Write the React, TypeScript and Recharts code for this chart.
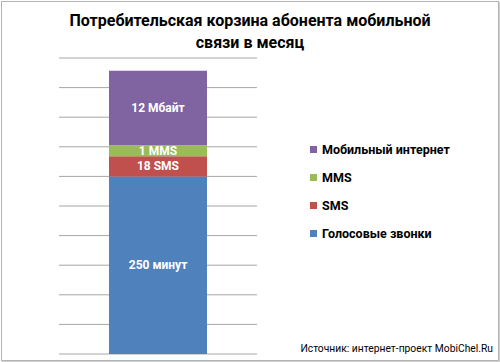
import React from "react";
import { BarChart, Bar, XAxis, YAxis, CartesianGrid, LabelList } from "recharts";

const categories = ["Месяц"];
const seriesNames = ["Голосовые звонки", "SMS", "MMS", "Мобильный интернет"];
const seriesKeys = ["voice", "sms", "mms", "internet"];
const seriesValues = [60, 6.8, 3.7, 25.2];
const seriesLabels = ["250 минут", "18 SMS", "1 MMS", "12 Мбайт"];
const seriesColors = ["#4F81BD", "#C0504D", "#9BBB59", "#8064A2"];
const yTicks = [0, 10, 20, 30, 40, 50, 60, 70, 80, 90, 100];

const data = categories.map((c) => {
  const row: Record<string, string | number> = { name: c };
  seriesKeys.forEach((k, i) => {
    row[k] = seriesValues[i];
  });
  return row;
});

const FONT = "Roboto, 'Noto Sans', sans-serif";

const makeLabel = (text: string) => (props: any) => {
  const { x, y, width, height } = props;
  return (
    <text
      x={x + width / 2}
      y={y + height / 2}
      textAnchor="middle"
      dominantBaseline="central"
      fill="#ffffff"
      fontFamily={FONT}
      fontWeight={700}
      fontSize={12}
    >
      {text}
    </text>
  );
};

const LegendBlock = () => {
  const order = [3, 2, 1, 0];
  return (
    <div style={{ position: "absolute", left: 310, top: 135, fontFamily: FONT }}>
      {order.map((i) => (
        <div key={i} style={{ display: "flex", alignItems: "center", height: 28 }}>
          <div style={{ width: 7, height: 7, background: seriesColors[i], marginRight: 5 }} />
          <span style={{ fontSize: 12.5, fontWeight: 700, color: "#000" }}>{seriesNames[i]}</span>
        </div>
      ))}
    </div>
  );
};

export default function App() {
  return (
    <div style={{ position: "absolute", left: 0, top: 0, width: 500, height: 362, background: "#fff" }}>
      <div
        style={{
          position: "absolute",
          left: 1,
          top: 1,
          width: 496,
          height: 358,
          border: "1px solid #b4b4b4",
          boxShadow: "1px 1px 1px #d0d0d0",
        }}
      />
      <div
        style={{
          position: "absolute",
          left: 0,
          top: 10,
          width: 500,
          textAlign: "center",
          fontFamily: FONT,
          fontWeight: 700,
          fontSize: 16,
          lineHeight: "22px",
          color: "#000",
        }}
      >
        Потребительская корзина абонента мобильной
        <br />
        связи в месяц
      </div>
      <div style={{ position: "absolute", left: 0, top: 0 }}>
        <BarChart
          width={500}
          height={362}
          data={data}
          margin={{ top: 58, right: 243, bottom: 8, left: 59 }}
        >
          <CartesianGrid horizontal vertical={false} stroke="#a6a6a6" strokeWidth={1} />
          <XAxis dataKey="name" hide />
          <YAxis hide domain={[0, 100]} ticks={yTicks} />
          {seriesKeys.map((k, i) => (
            <Bar
              key={k}
              dataKey={k}
              name={seriesNames[i]}
              stackId="a"
              fill={seriesColors[i]}
              barSize={98}
              isAnimationActive={false}
            >
              <LabelList dataKey={k} content={makeLabel(seriesLabels[i])} />
            </Bar>
          ))}
        </BarChart>
      </div>
      <LegendBlock />
      <div
        style={{
          position: "absolute",
          left: 0,
          width: 493,
          top: 342,
          textAlign: "right",
          fontFamily: FONT,
          fontSize: 10.3,
          color: "#000",
        }}
      >
        Источник: интернет-проект MobiChel.Ru
      </div>
    </div>
  );
}
